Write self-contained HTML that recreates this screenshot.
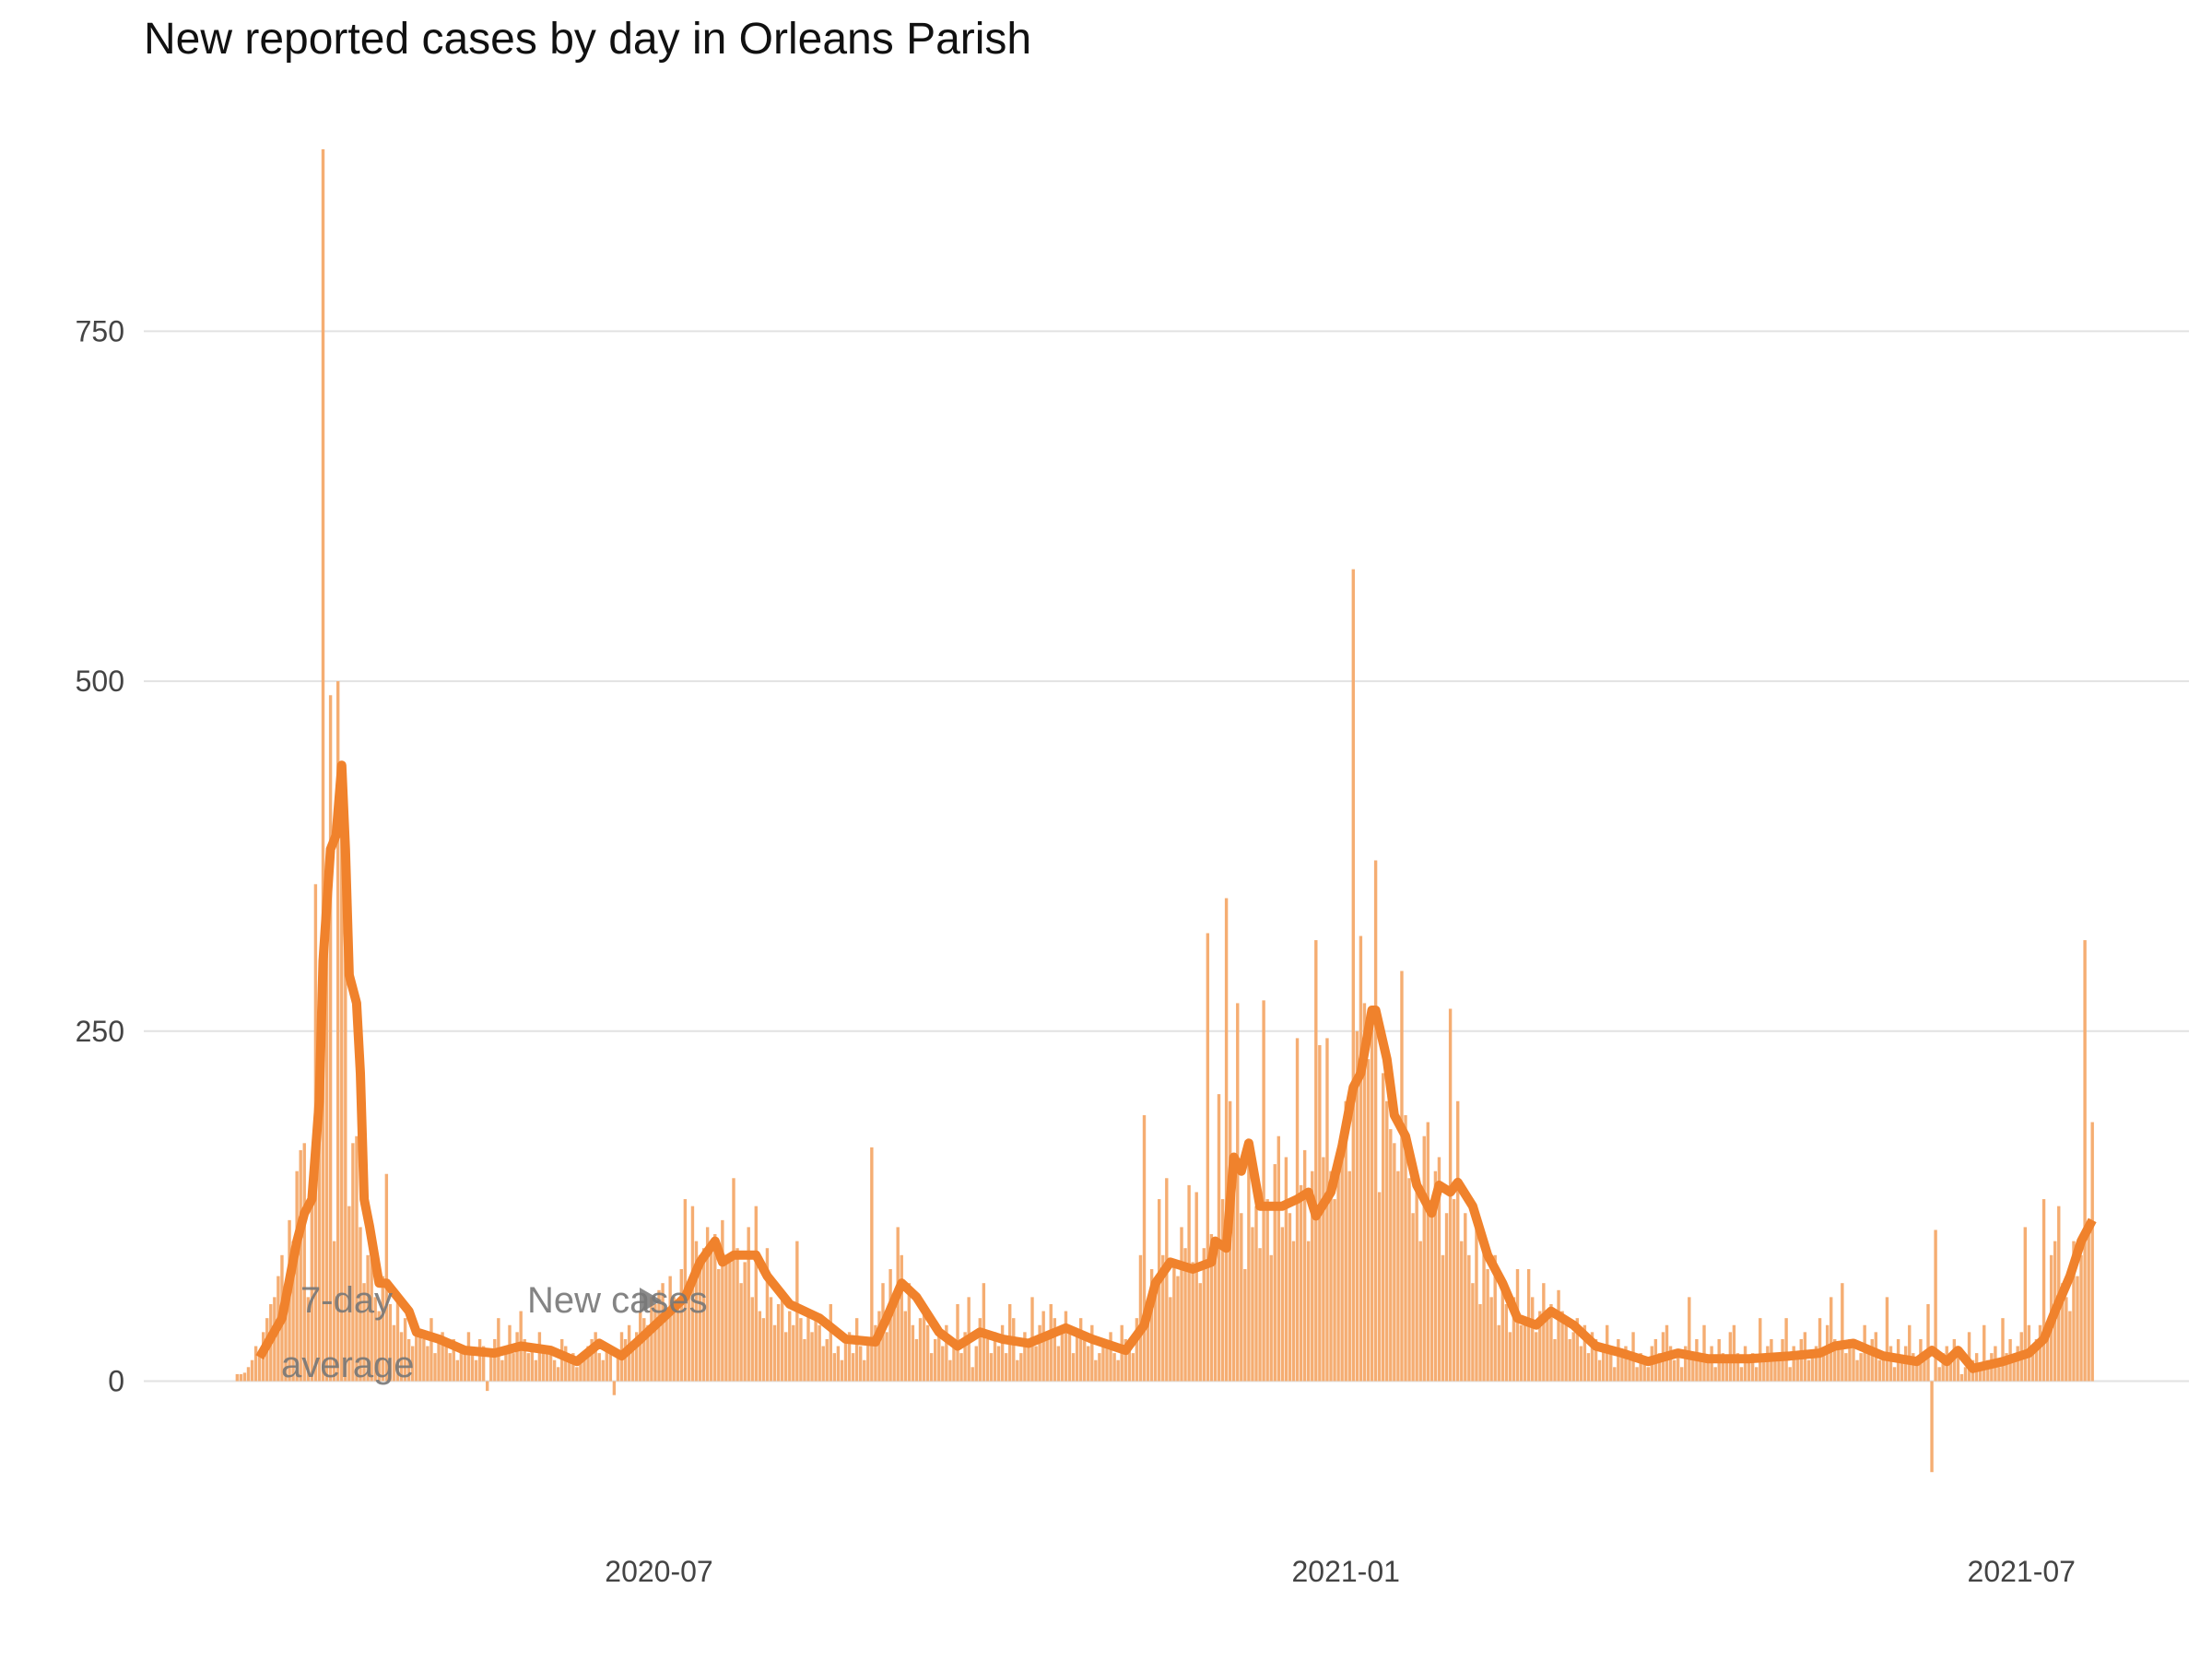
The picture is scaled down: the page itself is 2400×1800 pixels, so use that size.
<!DOCTYPE html>
<html><head><meta charset="utf-8"><style>
html,body{margin:0;padding:0;background:#fff;width:2400px;height:1800px;overflow:hidden}
svg{display:block;font-family:"Liberation Sans",sans-serif}
</style></head><body>
<svg id="chart" width="2400" height="1800" viewBox="0 0 2400 1800" xmlns="http://www.w3.org/2000/svg">
<text x="156" y="58" font-size="48" fill="#111">New reported cases by day in Orleans Parish</text>
<g id="grid"></g>
<g id="yticks"></g>
<g id="xticks"></g>
<g id="bars"></g>
<g id="line"></g>
<text x="326" y="1424" font-size="40" fill="#777" opacity="0.9">7-day</text>
<text x="305" y="1494" font-size="40" fill="#777" opacity="0.9">average</text>
<text x="572" y="1424" font-size="40" fill="#777" opacity="0.9">New cases</text>
<polygon points="694,1397 694,1425 718,1411" fill="#777" opacity="0.85"/>
</svg>
<script>
const yTicks=[0,250,500,750];
const xTickLabels=["2020-07","2021-01","2021-07"];
const xTickDays=[113,297,478];
const daily=[5,5,6,10,15,25,20,
35,45,55,60,75,90,50,
115,100,150,165,170,60,130,
355,250,880,330,490,100,500,
430,380,125,170,175,110,70,
90,95,60,50,75,148,55,
40,60,35,45,30,25,40,
35,30,25,45,20,30,35,
25,20,30,15,25,20,35,
20,15,30,25,-7,20,30,
45,15,25,40,20,35,50,
30,20,25,15,35,20,25,
20,15,10,30,25,15,20,
10,15,20,25,30,35,20,
15,25,20,-10,20,35,30,
40,25,35,50,45,40,60,
55,65,70,45,75,60,55,
80,130,70,125,100,90,95,
110,100,105,80,115,90,85,
145,95,70,85,110,60,125,
50,45,95,60,40,55,65,
35,50,40,100,45,30,50,
35,45,40,25,30,55,20,
25,15,30,35,20,45,25,
15,30,167,40,50,70,35,
80,60,110,90,50,70,40,
30,45,50,40,20,30,35,
25,40,15,30,55,20,35,
60,10,25,45,70,30,20,
35,25,40,20,55,45,15,
20,35,30,60,25,40,50,
30,55,45,25,40,50,35,
20,35,45,30,25,40,15,
20,30,25,35,20,15,40,
30,25,20,45,90,190,55,
80,70,130,90,145,60,85,
75,110,95,140,85,135,70,
95,320,105,95,205,130,345,
200,140,270,120,80,155,110,
125,95,272,130,90,155,175,
110,160,120,100,245,140,165,
100,150,315,240,160,245,150,
130,160,175,200,150,580,250,
318,270,230,260,372,135,220,
200,180,170,150,293,190,145,
120,140,100,175,185,120,150,
160,90,120,266,130,200,100,
120,90,70,115,55,100,80,
60,90,40,70,55,35,60,
80,40,45,80,60,35,50,
70,45,55,30,65,50,40,
30,35,45,25,40,20,35,
30,15,25,40,20,10,30,
20,25,15,35,10,20,15,
10,25,30,20,35,40,25,
15,20,10,25,60,15,30,
20,40,15,25,10,30,20,
15,35,40,20,10,25,15,
20,10,45,15,25,30,20,
15,30,45,10,25,20,30,
35,15,20,25,45,20,40,
60,30,25,70,20,30,25,
15,20,40,25,30,35,15,
20,60,25,10,30,15,25,
40,20,15,30,20,55,-65,
108,10,20,25,15,30,20,
5,10,35,15,20,10,40,
15,20,25,10,45,20,30,
15,25,35,110,40,20,30,
40,130,35,90,100,125,70,
60,50,100,75,90,315,110,
185];
const avgDays=[6,12,16,18,20,22,23,25,26.5,28,29,30,32,33,34,35.5,38,40,43,46,48,54,61,69,76,84,91,97,103,108,114,120,124,128,130,133,139,142,148,156,163,171,174,178,182,188,193,199,205,212,222,229,238,243,246,250,256,261,262,265,267,269,271,274,280,284,287,289,293,296,299,301,304,305,308,310,313,316,320,322,325,327,331,335,339,343,348,352,358,364,371,378,386,394,405,416,424,428,433,441,450,454,458,461,465,473,480,484,487,491,494,497];
const avgVals=[17,45,100,120,130,200,300,380,390,440,380,290,270,220,130,110,70,70,60,50,35,30,22,20,25,22,14,27,18,30,45,60,85,100,85,90,90,75,55,45,30,28,45,70,60,35,25,35,30,27,38,30,22,40,70,85,80,85,100,95,160,150,170,125,125,130,135,118,135,168,210,220,265,265,230,190,175,140,120,140,135,142,125,90,70,45,40,50,40,25,20,14,20,16,16,18,20,25,27,18,14,22,14,22,9,14,20,30,50,75,100,115];
const NS="http://www.w3.org/2000/svg";
const x=d=>715+(d-113)*4.05;
const y=v=>1498.5-v*1.5188;
const mk=(t,a)=>{const e=document.createElementNS(NS,t);for(const k in a)e.setAttribute(k,a[k]);return e;};
const grid=document.getElementById('grid'),yt=document.getElementById('yticks'),xt=document.getElementById('xticks');
yTicks.forEach(v=>{
 const l=mk('line',{x1:156,x2:2375,y1:y(v),y2:y(v),stroke:'#e2e2e2','stroke-width':2});
 
 
 grid.appendChild(l);
 const t=mk('text',{x:135,y:y(v)+11,'text-anchor':'end','font-size':32,fill:'#444'});
 t.textContent=v;
 
 
 yt.appendChild(t);
});
xTickLabels.forEach((s,i)=>{
 const t=mk('text',{x:x(xTickDays[i]),y:1716,'text-anchor':'middle','font-size':32,fill:'#444'});
 t.textContent=s;
 
 
 xt.appendChild(t);
});
const bars=document.getElementById('bars');
daily.forEach((v,i)=>{
 const y0=y(Math.max(v,0)),y1=y(Math.min(v,0));
 const r=mk('rect',{x:x(i)-1.7,y:y0,width:3.4,height:Math.max(y1-y0,0.5),fill:'#f5ad72'});
 
 
 bars.appendChild(r);
});
const pts=avgDays.map((d,i)=>x(d).toFixed(1)+','+y(avgVals[i]).toFixed(1)).join(' ');
const pl=mk('polyline',{points:pts,fill:'none',stroke:'#f0822c','stroke-width':10,'stroke-linejoin':'round'});


document.getElementById('line').appendChild(pl);
</script>
</body></html>
